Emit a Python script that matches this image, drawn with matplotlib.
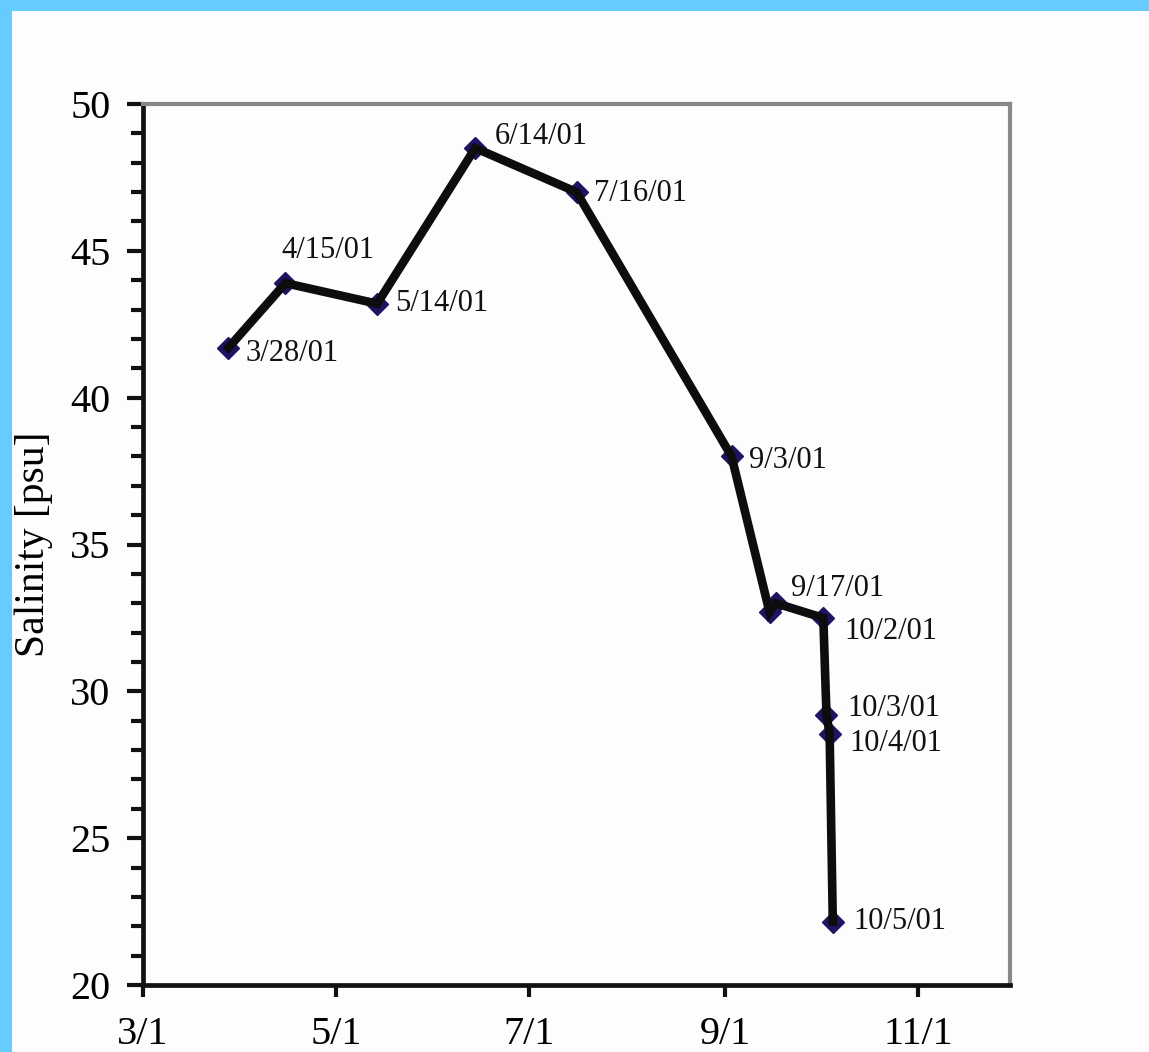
import datetime as dt
import matplotlib
matplotlib.use("Agg")
import matplotlib.pyplot as plt
from matplotlib.patches import Rectangle
from matplotlib.ticker import MultipleLocator

# sampling dates (2001) and measured salinity
dates = ["2001-03-28", "2001-04-15", "2001-05-14", "2001-06-14", "2001-07-16",
         "2001-09-03", "2001-09-15", "2001-09-17", "2001-10-02", "2001-10-03",
         "2001-10-04", "2001-10-05"]
salinity = [41.7, 43.9, 43.2, 48.5, 47.0, 38.0, 32.7, 33.0, 32.5, 29.2, 28.55, 22.15]

# point labels (None = unlabeled) and their pixel offsets
labels = ["3/28/01", "4/15/01", "5/14/01", "6/14/01", "7/16/01", "9/3/01", None,
          "9/17/01", "10/2/01", "10/3/01", "10/4/01", "10/5/01"]
offsets = [(17, -6), (-4, 33), (18, 0), (20, 12), (17, -1), (17, -4), None,
           (15, 15), (21, -14), (21, 6), (20, -10), (21, 0)]

xtick_dates = ["2001-03-01", "2001-05-01", "2001-07-01", "2001-09-01", "2001-11-01"]
xtick_labels = ["3/1", "5/1", "7/1", "9/1", "11/1"]

plt.rcParams["font.family"] = ["Liberation Serif", "DejaVu Serif"]

W, H = 1149, 1052
fig = plt.figure(figsize=(W / 100, H / 100), dpi=100, facecolor="#fdfdfd")

# light blue frame on the left and top edge
fig.patches.append(Rectangle((0, 0), 12 / W, 1, transform=fig.transFigure,
                             facecolor="#66ccff", edgecolor="none"))
fig.patches.append(Rectangle((0, 1 - 11 / H), 1, 11 / H, transform=fig.transFigure,
                             facecolor="#66ccff", edgecolor="none"))

ax = fig.add_axes([143 / W, (H - 985) / H, 867 / W, 881 / H])
ax.set_facecolor("#fdfdfd")

x = [dt.datetime.strptime(d, "%Y-%m-%d") for d in dates]

ax.plot(x, salinity, linestyle="none", marker="D", markersize=11,
        color="#1e1466", zorder=2)
ax.plot(x, salinity, color="#0d0d0d", linewidth=6.2, solid_joinstyle="miter",
        zorder=3)

for xi, yi, lab, off in zip(x, salinity, labels, offsets):
    if lab is None:
        continue
    ax.annotate(lab, (xi, yi), xytext=off, textcoords="offset pixels",
                ha="left", va="center", fontsize=22, color="#111111")

ax.set_xlim(dt.datetime(2001, 3, 1), dt.datetime(2001, 11, 30))
ax.set_ylim(20, 50)

ax.set_xticks([dt.datetime.strptime(d, "%Y-%m-%d") for d in xtick_dates])
ax.set_xticklabels(xtick_labels)
ax.yaxis.set_major_locator(MultipleLocator(5))
ax.yaxis.set_minor_locator(MultipleLocator(1))

ax.tick_params(axis="y", which="major", direction="out", length=11.5, width=3,
               labelsize=29, pad=12, color="#111111")
ax.tick_params(axis="y", which="minor", direction="out", length=8.5, width=3,
               color="#111111")
ax.tick_params(axis="x", which="major", direction="out", length=8.5, width=3,
               labelsize=29, pad=14, color="#111111")

for side in ["left", "bottom"]:
    ax.spines[side].set_linewidth(3.4)
    ax.spines[side].set_color("#111111")
for side in ["top", "right"]:
    ax.spines[side].set_linewidth(3)
    ax.spines[side].set_color("#888888")

ax.set_ylabel("Salinity [psu]", fontsize=30, labelpad=12)

fig.savefig("out.png", dpi=100, facecolor=fig.get_facecolor())
